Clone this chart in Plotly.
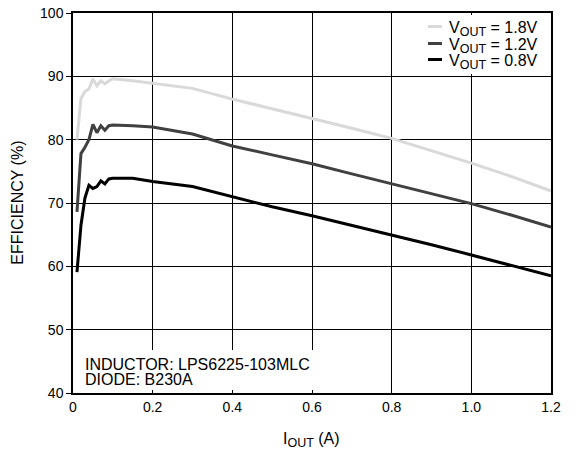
import plotly.graph_objects as go

iout = [0.01, 0.02, 0.03, 0.04, 0.05, 0.06, 0.07, 0.08, 0.09, 0.10, 0.15, 0.20,
        0.30, 0.40, 0.50, 0.60, 0.70, 0.80, 0.90, 1.00, 1.10, 1.20]
eff_18 = [80.0, 86.5, 87.6, 88.0, 89.6, 88.5, 89.3, 88.8, 89.3, 89.6, 89.3, 88.9,
          88.1, 86.4, 84.9, 83.3, 81.8, 80.2, 78.3, 76.3, 74.2, 71.9]
eff_12 = [68.6, 77.8, 78.8, 80.0, 82.4, 81.1, 82.2, 81.5, 82.2, 82.3, 82.2, 82.0,
          80.9, 79.0, 77.6, 76.2, 74.6, 73.0, 71.5, 69.9, 68.1, 66.2]
eff_08 = [59.1, 66.5, 70.8, 72.8, 72.3, 72.6, 73.5, 73.0, 73.8, 73.9, 73.9, 73.4,
          72.6, 71.0, 69.4, 68.0, 66.5, 65.0, 63.4, 61.8, 60.2, 58.5]
SUB = '<sub><span style="font-size:12.5px">OUT</span></sub>'
series_names = ["V" + SUB + " = 1.8V", "V" + SUB + " = 1.2V", "V" + SUB + " = 0.8V"]
x_tickvals = [0, 0.2, 0.4, 0.6, 0.8, 1.0, 1.2]
x_ticktext = ["0", "0.2", "0.4", "0.6", "0.8", "1.0", "1.2"]

FONT = "Liberation Sans, Arial, sans-serif"
colors = ["#d9d9d9", "#404040", "#000000"]

fig = go.Figure()
for name, ys, c in zip(series_names, [eff_18, eff_12, eff_08], colors):
    fig.add_trace(go.Scatter(x=iout, y=ys, mode="lines", name=name,
                             line=dict(color=c, width=3), showlegend=False))

# page body has an 8px margin; compensate so the plot lands where the reference has it
fig.update_layout(
    width=578, height=449,
    margin=dict(l=65, r=35, t=5, b=64, autoexpand=False),
    paper_bgcolor="white", plot_bgcolor="white",
    font=dict(family=FONT, size=14, color="black"),
    showlegend=False,
    xaxis=dict(range=[0, 1.2], tickvals=x_tickvals, ticktext=x_ticktext,
               showgrid=True, gridcolor="black", gridwidth=1,
               showline=True, linecolor="black", linewidth=1.5, mirror=True,
               ticks="", zeroline=False, automargin=False,
               ticklabeloverflow="allow", tickfont=dict(size=14)),
    yaxis=dict(range=[40, 100], dtick=10, tick0=40,
               showgrid=True, gridcolor="black", gridwidth=1,
               showline=True, linecolor="black", linewidth=1.5, mirror=True,
               ticks="outside", ticklen=5, tickcolor="black", zeroline=False,
               automargin=False, ticklabeloverflow="allow",
               tickfont=dict(size=14)),
)

def blank_box(x, y, w, h, color):
    fig.add_annotation(xref="paper", yref="paper", x=x, y=y,
                       xanchor="center", yanchor="middle", showarrow=False,
                       text=" ", width=w, height=h, borderpad=0,
                       bgcolor=color, borderwidth=0,
                       font=dict(family=FONT, size=1, color=color))

# white backgrounds (hide grid lines behind legend and note, as in reference)
blank_box(0.8347, 0.9171, 154, 59, "white")
blank_box(0.2584, 0.0605, 246, 40, "white")

# custom legend (tight line spacing as in the reference)
key_y = [0.9632, 0.9203, 0.8782]
for name, c, ky in zip(series_names, colors, key_y):
    blank_box(0.7573, ky, 14, 3, c)
    fig.add_annotation(xref="paper", yref="paper", x=0.977, y=ky - 0.006,
                       xanchor="right", yanchor="middle", showarrow=False,
                       text=name, font=dict(family=FONT, size=16, color="black"))

# axis titles
fig.add_annotation(xref="paper", yref="paper", x=0.498, y=-0.1237,
                   xanchor="center", yanchor="middle", showarrow=False,
                   text="I" + SUB + " (A)",
                   font=dict(family=FONT, size=16, color="black"))
fig.add_annotation(xref="paper", yref="paper", x=-0.1178, y=0.5,
                   xanchor="center", yanchor="middle", showarrow=False,
                   textangle=-90, text="EFFICIENCY (%)",
                   font=dict(family=FONT, size=16, color="black"))

# component note
fig.add_annotation(xref="paper", yref="paper", x=0.0203, y=0.0763,
                   xanchor="left", yanchor="middle", showarrow=False,
                   text="INDUCTOR: LPS6225-103MLC",
                   font=dict(family=FONT, size=16, color="black"))
fig.add_annotation(xref="paper", yref="paper", x=0.0203, y=0.0368,
                   xanchor="left", yanchor="middle", showarrow=False,
                   text="DIODE: B230A",
                   font=dict(family=FONT, size=16, color="black"))

fig.add_annotation(xref="paper", yref="paper", x=1.070, y=-0.084,
                   xanchor="center", yanchor="middle", textangle=-90,
                   text="08342-066", showarrow=False,
                   font=dict(family=FONT, size=8, color="#555555"))

fig.write_html("out.html")
